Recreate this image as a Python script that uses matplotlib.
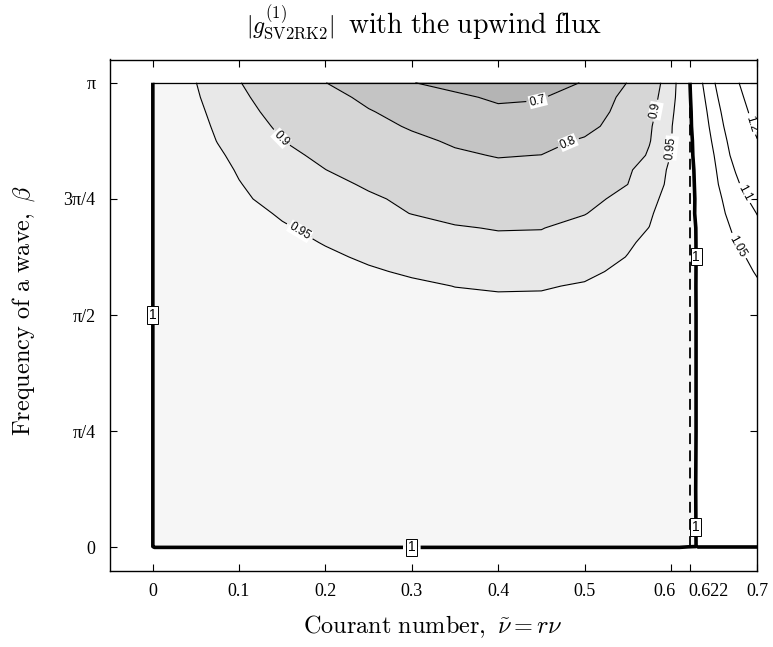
import numpy as np
import matplotlib
matplotlib.use("Agg")
import matplotlib.pyplot as plt
from matplotlib.transforms import ScaledTranslation

# ---------------- data ----------------
nu = [0, 0.002, 0.025, 0.05, 0.075, 0.1, 0.15, 0.2, 0.25, 0.3, 0.35, 0.4, 0.45, 0.5,
      0.55, 0.575, 0.6, 0.61, 0.62, 0.63, 0.64, 0.65, 0.675, 0.7]
beta_over_pi = [0, 0.002, 0.125, 0.25, 0.375, 0.5, 0.5625, 0.59375, 0.625, 0.65625,
                0.6875, 0.71875, 0.75, 0.78125, 0.8125, 0.84375, 0.875, 0.90625,
                0.9375, 0.96875, 1.0]

# |g| estimated on the (beta, nu) grid, one row per beta value
g_values = [
    [1.00001] * 18 + [1.0002] + [0.99999] * 5,
    [1.00001] + [0.9999] * 18 + [1.00001] * 5,
    [1.00001, 0.9999, 0.999, 0.998, 0.997, 0.996, 0.995, 0.994, 0.993, 0.992, 0.991, 0.990,
     0.990, 0.991, 0.993, 0.994, 0.996, 0.997, 0.998, 1.0003, 1.0008, 1.0013, 1.0026, 1.004],
    [1.00001, 0.9999, 0.9985, 0.997, 0.9955, 0.994, 0.991, 0.988, 0.986, 0.984, 0.9825, 0.9815,
     0.9815, 0.983, 0.986, 0.988, 0.991, 0.9935, 0.996, 1.0004, 1.002, 1.0035, 1.0075, 1.012],
    [1.00001, 0.9999, 0.998, 0.996, 0.994, 0.992, 0.988, 0.984, 0.9805, 0.978, 0.976, 0.975,
     0.975, 0.977, 0.981, 0.984, 0.988, 0.991, 0.994, 1.0006, 1.003, 1.006, 1.012, 1.019],
    [1.00001, 0.9999, 0.997, 0.9945, 0.9915, 0.9885, 0.983, 0.977, 0.972, 0.967, 0.9635, 0.962,
     0.9625, 0.966, 0.975, 0.981, 0.988, 0.9915, 0.995, 1.0005, 1.005, 1.0095, 1.02, 1.031],
    [1.00001, 0.9999, 0.996, 0.9925, 0.989, 0.985, 0.978, 0.970, 0.963, 0.956, 0.9495, 0.947,
     0.9475, 0.953, 0.965, 0.973, 0.985, 0.990, 0.995, 1.0006, 1.006, 1.012, 1.028, 1.045],
    [1.00001, 0.9999, 0.9953, 0.9908, 0.9862, 0.9815, 0.9725, 0.963, 0.954, 0.9455, 0.938, 0.9345,
     0.935, 0.943, 0.958, 0.9675, 0.9835, 0.989, 0.9945, 1.0006, 1.0075, 1.015, 1.034, 1.0535],
    [1.00001, 0.9999, 0.9945, 0.989, 0.9834, 0.978, 0.967, 0.956, 0.945, 0.935, 0.927, 0.922,
     0.923, 0.933, 0.951, 0.962, 0.982, 0.988, 0.994, 1.0006, 1.009, 1.018, 1.04, 1.062],
    [1.00001, 0.9999, 0.9935, 0.987, 0.9805, 0.974, 0.961, 0.948, 0.937, 0.926, 0.9155, 0.910,
     0.911, 0.925, 0.946, 0.9565, 0.978, 0.9855, 0.993, 1.0008, 1.011, 1.022, 1.0505, 1.076],
    [1.00001, 0.9999, 0.992, 0.9845, 0.9767, 0.969, 0.9535, 0.9407, 0.9287, 0.9167, 0.9035, 0.8975,
     0.8985, 0.9164, 0.939, 0.9505, 0.9736, 0.9827, 0.9918, 1.0011, 1.0135, 1.026, 1.058, 1.09],
    [1.00001, 0.9999, 0.9909, 0.9818, 0.9726, 0.9635, 0.946, 0.9303, 0.9147, 0.899, 0.887, 0.880,
     0.880, 0.898, 0.929, 0.9454, 0.9696, 0.9804, 0.9913, 1.0029, 1.0173, 1.0317, 1.067, 1.1014],
    [1.00001, 0.9999, 0.989, 0.978, 0.967, 0.9557, 0.938, 0.9232, 0.9064, 0.891, 0.873, 0.862,
     0.862, 0.881, 0.919, 0.939, 0.964, 0.977, 0.990, 1.003, 1.019, 1.035, 1.076, 1.119],
    [1.00001, 0.9999, 0.9879, 0.9757, 0.9636, 0.9515, 0.932, 0.9129, 0.8945, 0.872, 0.8525, 0.8405,
     0.840, 0.858, 0.9, 0.9287, 0.9596, 0.9743, 0.989, 1.0045, 1.0223, 1.0402, 1.0898, 1.142],
    [1.00001, 0.9999, 0.9866, 0.973, 0.960, 0.9469, 0.9237, 0.9005, 0.878, 0.853, 0.832, 0.819,
     0.818, 0.835, 0.893, 0.924, 0.957, 0.973, 0.989, 1.0058, 1.025, 1.044, 1.103, 1.163],
    [1.00001, 0.9999, 0.985, 0.970, 0.9551, 0.9411, 0.914, 0.8878, 0.8627, 0.8376, 0.811, 0.796,
     0.801, 0.825, 0.872, 0.906, 0.951, 0.970, 0.9894, 1.0092, 1.0296, 1.05, 1.118, 1.183],
    [1.00001, 0.9999, 0.983, 0.966, 0.949, 0.933, 0.9007, 0.8726, 0.845, 0.8168, 0.79, 0.772,
     0.775, 0.8104, 0.8682, 0.897, 0.948, 0.9688, 0.9896, 1.011, 1.0333, 1.0573, 1.1286, 1.197],
    [1.00001, 0.9999, 0.9813, 0.9627, 0.9442, 0.9262, 0.891, 0.8581, 0.8252, 0.792, 0.762, 0.743,
     0.746, 0.772, 0.8491, 0.893, 0.9467, 0.9689, 0.9911, 1.0145, 1.0386, 1.066, 1.1422, 1.219],
    [1.00001, 0.9999, 0.9795, 0.959, 0.9389, 0.919, 0.880, 0.842, 0.8045, 0.775, 0.735, 0.714,
     0.718, 0.752, 0.834, 0.884, 0.9415, 0.966, 0.991, 1.0176, 1.0446, 1.075, 1.1537, 1.233],
    [1.00001, 0.9999, 0.9773, 0.9545, 0.9328, 0.9113, 0.868, 0.8244, 0.7843, 0.7486, 0.7129, 0.689,
     0.695, 0.746, 0.82, 0.8756, 0.9359, 0.963, 0.992, 1.0221, 1.0526, 1.0855, 1.1689, 1.2534],
    [1.00001, 0.9999, 0.975, 0.9506, 0.9266, 0.9027, 0.852, 0.801, 0.752, 0.702, 0.678, 0.670,
     0.678, 0.703, 0.8025, 0.864, 0.932, 0.962, 0.993, 1.027, 1.062, 1.0966, 1.186, 1.276],
]

line_levels = [0.7, 0.8, 0.9, 0.95, 1.05, 1.1, 1.2]
unit_level = [1.0]
fill_levels = [0.0, 0.7, 0.8, 0.9, 0.95, 1.0, 2.0]
stability_limit = 0.622

xticks = [0, 0.1, 0.2, 0.3, 0.4, 0.5, 0.6, 0.622, 0.7]
xtick_labels = ["0", "0.1", "0.2", "0.3", "0.4", "0.5", "0.6", "0.622", "0.7"]
ytick_over_pi = [0, 0.25, 0.5, 0.75, 1.0]
ytick_labels = ["0", "π/4", "π/2", "3π/4", "π"]

# ---------------- styling ----------------
plt.rcParams["mathtext.fontset"] = "cm"
fill_colors = ["#b4b4b4", "#c4c4c4", "#d6d6d6", "#e8e8e8", "#f6f6f6", "#ffffff"]
label_pos_thin = [(0.446, 3.01), (0.483, 2.713), (0.147, 2.759), (0.5856, 2.949),
                  (0.168, 2.115), (0.601, 2.70), (0.680, 2.047), (0.686, 2.397),
                  (0.692, 2.86)]
label_pos_unit = [(0.0, 1.5708), (0.300, 0.0), (0.630, 1.966), (0.630, 0.138)]

NU = np.array(nu)
BETA = np.pi * np.array(beta_over_pi)
G = np.array(g_values)

W, H = 773, 647
fig = plt.figure(figsize=(W / 100, H / 100), dpi=100)
L, R, T, B = 109.5, 757.3, 59.5, 570.7
ax = fig.add_axes([L / W, (H - B) / H, (R - L) / W, (B - T) / H])

ax.contourf(NU, BETA, G, levels=fill_levels, colors=fill_colors)
cs = ax.contour(NU, BETA, G, levels=line_levels, colors="k", linewidths=0.8)
cs1 = ax.contour(NU, BETA, G, levels=unit_level, colors="k", linewidths=2.6)

# top boundary of computed region and stability limit
ax.plot([NU[0], NU[-1]], [BETA[-1], BETA[-1]], color="k", lw=0.9)
ax.plot([stability_limit, stability_limit], [BETA[0], BETA[-1]], color="k",
        lw=1.3, ls=(0, (6, 3.5)))

txt = ax.clabel(cs, fmt="%g", fontsize=8.5, inline=True, inline_spacing=3,
                manual=label_pos_thin)
for t in txt:
    t.set_fontfamily("Liberation Sans")
    t.set_bbox(dict(boxstyle="square,pad=0.05", fc="white", ec="none"))
txt1 = ax.clabel(cs1, fmt={1.0: "1"}, fontsize=10, inline=True, manual=label_pos_unit)
for t in txt1:
    t.set_rotation(0)
    t.set_fontfamily("Liberation Sans")
    t.set_bbox(dict(boxstyle="square,pad=0.12", fc="white", ec="black", lw=0.7))

ax.set_xlim(-0.05, 0.7)
ax.set_ylim(-0.05 * np.pi, 1.05 * np.pi)
ax.set_xticks(xticks)
ax.set_xticklabels(xtick_labels)
ax.set_yticks(np.pi * np.array(ytick_over_pi))
ax.set_yticklabels(ytick_labels)
ax.tick_params(direction="in", length=5, width=0.8, top=True, right=True,
               labelsize=13)
ax.tick_params(axis="x", pad=8.5)
ax.tick_params(axis="y", pad=10)
for lab in ax.get_xticklabels() + ax.get_yticklabels():
    lab.set_fontfamily("Liberation Serif")
# crowded labels at 0.6 / 0.622 are nudged apart as in the reference
xt = ax.xaxis.get_major_ticks()
for tk, dx in ((xt[6], -0.06), (xt[7], 0.19)):
    tk.label1.set_transform(tk.label1.get_transform()
                            + ScaledTranslation(dx, 0, fig.dpi_scale_trans))
for s in ax.spines.values():
    s.set_linewidth(1.0)

fig.text(433 / W, 1 - 627 / H, r"$\mathrm{Courant\ number,}\ \tilde{\nu} = r\nu$",
         fontsize=17.5, ha="center", va="center")
fig.text(24 / W, 1 - 310 / H, r"$\mathrm{Frequency\ of\ a\ wave,}\ \beta$",
         fontsize=17.5, ha="center", va="center", rotation=90)
fig.text(334 / W, 1 - 33 / H, r"$|g^{(1)}_{\mathrm{SV2RK2}}|$",
         fontsize=17, ha="right", va="baseline")
fig.text(348 / W, 1 - 33 / H, r"$\mathrm{with\ the\ upwind\ flux}$",
         fontsize=20, ha="left", va="baseline")

fig.savefig("out.png", dpi=100)
